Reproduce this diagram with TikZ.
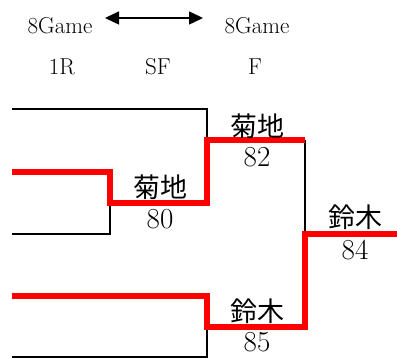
\documentclass[tikz,border=0pt]{standalone}
\usepackage{fontspec}
\usepackage{tikz}
\usetikzlibrary{arrows.meta}
\newfontfamily\jpfont{Noto Sans CJK JP}

\begin{document}
\begin{tikzpicture}[x=1pt,y=-1pt]

  \tikzstyle{headnode}=[inner sep=0pt,font=\fontsize{23}{23}\selectfont]
  \tikzstyle{namenode}=[inner sep=0pt,font=\jpfont\fontsize{27}{27}\selectfont]
  \tikzstyle{scorenode}=[inner sep=0pt,font=\fontsize{29}{29}\selectfont]
  \tikzstyle{loseline}=[draw=black,line width=2pt]
  \tikzstyle{winline}=[draw=red,line width=6.5pt]

  \useasboundingbox (0,0) rectangle (397,358);

  \node[headnode] (gameleft)  at (60,26)  {8Game};
  \node[headnode] (gameright) at (257,26) {8Game};
  \node[headnode] (round1)    at (62,67)  {1R};
  \node[headnode] (semi)      at (158,67) {SF};
  \node[headnode] (final)     at (255,67) {F};

  \coordinate (spanleft)  at (105,18);
  \coordinate (spanright) at (203,18);
  \draw[line width=1.5pt,{Triangle[length=14pt,width=13pt]}-{Triangle[length=14pt,width=13pt]}]
    (spanleft) -- (spanright);

  \coordinate (entry1) at (12,109);
  \coordinate (entry2) at (12,172);
  \coordinate (entry3) at (12,234);
  \coordinate (entry4) at (12,296);
  \coordinate (entry5) at (12,357);
  \coordinate (match1) at (110,203);
  \coordinate (semi1)  at (207,140);
  \coordinate (semi2)  at (207,327);
  \coordinate (finalj) at (305,234);
  \coordinate (champ)  at (397,234);

  \path[loseline] (entry1) -| (semi1)
                  (entry3) -| (match1)
                  (entry5) -| (semi2)
                  (semi1 -| finalj) -- (finalj);
  \path[winline]  (entry2) -| (match1) -| (semi1) -- (semi1 -| finalj)
                  (entry4) -| (semi2) -| (finalj) -- (champ);

  \node[namenode]  (kikuchi80) at (160,187) {菊地};
  \node[scorenode] (score80)   at (160,219) {80};
  \node[namenode]  (kikuchi82) at (257,126) {菊地};
  \node[scorenode] (score82)   at (257,157) {82};
  \node[namenode]  (suzuki84)  at (355,217) {鈴木};
  \node[scorenode] (score84)   at (355,250) {84};
  \node[namenode]  (suzuki85)  at (257,311) {鈴木};
  \node[scorenode] (score85)   at (257,342) {85};
\end{tikzpicture}
\end{document}
